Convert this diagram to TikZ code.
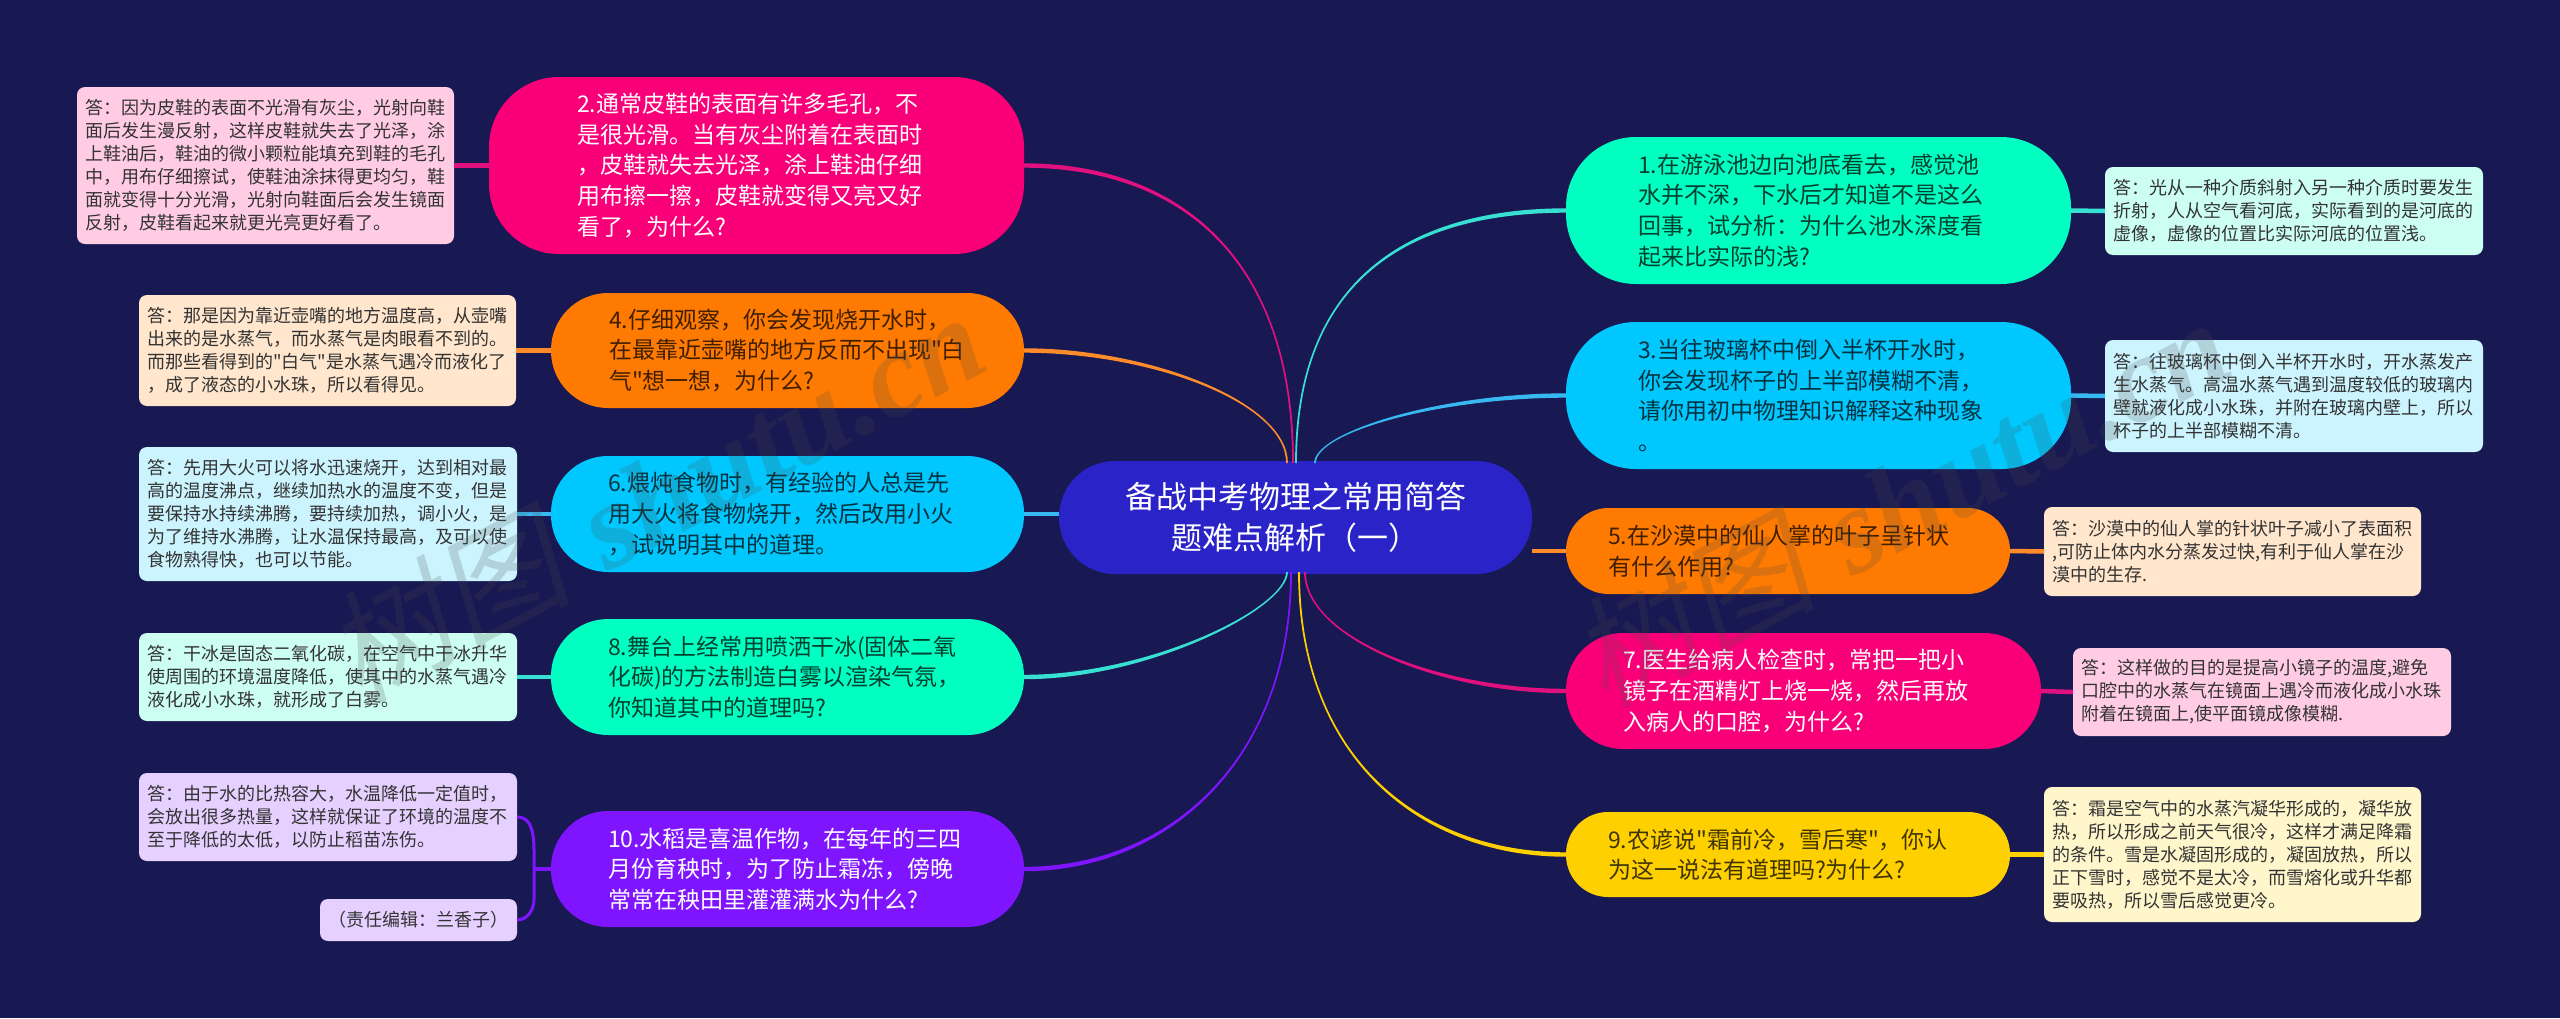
\documentclass[tikz,border=0pt]{standalone}
\usepackage{fontspec}
\newfontfamily\zh{Noto Sans CJK SC}
\newfontfamily\wmzh[FakeSlant=0.2]{Noto Sans CJK SC}
\newfontfamily\wmlatin{Liberation Serif}
\usetikzlibrary{calc}
\definecolor{bgc}{HTML}{181852}
\definecolor{cenc}{HTML}{2A24C8}
\definecolor{pinkc}{HTML}{FA0078}
\definecolor{orgc}{HTML}{FF7A00}
\definecolor{bluec}{HTML}{00C8FF}
\definecolor{grnc}{HTML}{00FFC0}
\definecolor{purc}{HTML}{7F14FF}
\definecolor{yelc}{HTML}{FFD000}
\definecolor{apink}{HTML}{FFCCE4}
\definecolor{aorg}{HTML}{FFE6CC}
\definecolor{ablue}{HTML}{CCF4FF}
\definecolor{agrn}{HTML}{CCFFF2}
\definecolor{apur}{HTML}{E5D0FF}
\definecolor{ayel}{HTML}{FFF6CC}
\definecolor{lpink}{HTML}{E0107F}
\definecolor{lorg}{HTML}{FF8C2A}
\definecolor{lblue}{HTML}{38B8F0}
\definecolor{lgrn}{HTML}{38E0D4}
\tikzset{
  anyrect/.style={rectangle,inner ysep=0pt,outer sep=0pt,align=left},
  branch/.style={anyrect,font=\zh\fontsize{23}{30.6}\selectfont},
  answer/.style={anyrect,rounded corners=8pt,font=\zh\fontsize{18}{23}\selectfont,text=black!80},
  short/.style={line width=4.5pt},
  mark text/.style={rotate=28,text=black!70,opacity=.2,font=\fontsize{122}{122}\selectfont},
}
\newcommand{\bx}[8]{% name x0 y0 x1 y1 pad style text
  \pgfmathsetlengthmacro{\bw}{(#4-#2)*1pt}
  \pgfmathsetlengthmacro{\bh}{(#5-#3)*1pt}
  \pgfmathsetlengthmacro{\bt}{(#4-#2-2*#6)*1pt}
  \pgfmathsetmacro{\bcx}{(#2+#4)/2}
  \pgfmathsetmacro{\bcy}{(#3+#5)/2}
  \node[#7,minimum width=\bw,minimum height=\bh,text width=\bt,inner xsep=#6pt] (#1) at (\bcx,\bcy) {#8};
}
\newcommand{\taper}[6]{% colour a b dx dy side
  \fill[#1] ($(#2)+(0,-2.2)$) .. controls ($(#2)+(#4,-2.2)$) and ($(#3)+(#6*0.9,#5)$) .. ($(#3)+(#6*0.9,0)$)
   -- ($(#3)+(-#6*0.9,0)$) .. controls ($(#3)+(-#6*0.9,#5)$) and ($(#2)+(#4,2.2)$) .. ($(#2)+(0,2.2)$) -- cycle;
}
\begin{document}
\begin{tikzpicture}[x=1pt,y=-1pt]
\useasboundingbox (0,0) rectangle (2560,1018);
\fill[bgc] (0,0) rectangle (2560,1018);
% connector ends on the centre
\coordinate (t4) at (1287,463);
\coordinate (t2) at (1293,463);
\coordinate (t1) at (1296,463);
\coordinate (t3) at (1315,463);
\coordinate (b8) at (1287,572);
\coordinate (b10) at (1291,572);
\coordinate (b9) at (1299,572);
\coordinate (b7) at (1305,572);
\coordinate (hub) at (534,869);
% centre
\bx{c}{1059}{461}{1532}{574}{40}{anyrect,align=center,rounded corners=56pt,fill=cenc,text=white,font=\zh\fontsize{31}{41}\selectfont}{备战中考物理之常用简答\\题难点解析（一）}
% left branches
\bx{n2}{489}{77}{1024}{254}{88}{branch,rounded corners=70pt,fill=pinkc,text=white}{2.通常皮鞋的表面有许多毛孔，不\\是很光滑。当有灰尘附着在表面时\\，皮鞋就失去光泽，涂上鞋油仔细\\用布擦一擦，皮鞋就变得又亮又好\\看了，为什么?}
\bx{n4}{551}{293}{1024}{408}{58}{branch,rounded corners=57pt,fill=orgc,text=black!75!orgc}{4.仔细观察，你会发现烧开水时，\\在最靠近壶嘴的地方反而不出现"白\\气"想一想，为什么?}
\bx{n6}{551}{456}{1024}{572}{57}{branch,rounded corners=57pt,fill=bluec,text=black!75!bluec}{6.煨炖食物时，有经验的人总是先\\用大火将食物烧开，然后改用小火\\，试说明其中的道理。}
\bx{n8}{551}{619}{1024}{735}{57}{branch,rounded corners=57pt,fill=grnc,text=black!75!grnc}{8.舞台上经常用喷洒干冰(固体二氧\\化碳)的方法制造白雾以渲染气氛，\\你知道其中的道理吗?}
\bx{n10}{551}{811}{1024}{927}{57}{branch,rounded corners=57pt,fill=purc,text=white}{10.水稻是喜温作物，在每年的三四\\月份育秧时，为了防止霜冻，傍晚\\常常在秧田里灌灌满水为什么?}
% right branches
\bx{n1}{1566}{137}{2071}{284}{72}{branch,rounded corners=70pt,fill=grnc,text=black!75!grnc}{1.在游泳池边向池底看去，感觉池\\水并不深，下水后才知道不是这么\\回事，试分析：为什么池水深度看\\起来比实际的浅?}
\bx{n3}{1566}{322}{2071}{469}{72}{branch,rounded corners=70pt,fill=bluec,text=black!75!bluec}{3.当往玻璃杯中倒入半杯开水时，\\你会发现杯子的上半部模糊不清，\\请你用初中物理知识解释这种现象\\。}
\bx{n5}{1566}{508}{2010}{594}{42}{branch,rounded corners=42.5pt,fill=orgc,text=black!75!orgc}{5.在沙漠中的仙人掌的叶子呈针状\\有什么作用?}
\bx{n7}{1566}{633}{2041}{749}{57}{branch,rounded corners=57pt,fill=pinkc,text=white}{7.医生给病人检查时，常把一把小\\镜子在酒精灯上烧一烧，然后再放\\入病人的口腔，为什么?}
\bx{n9}{1566}{812}{2010}{897}{42}{branch,rounded corners=42pt,fill=yelc,text=black!75!yelc}{9.农谚说"霜前冷，雪后寒"，你认\\为这一说法有道理吗?为什么?}
% answers left
\bx{a2}{77}{87}{454}{244}{8}{answer,fill=apink}{答：因为皮鞋的表面不光滑有灰尘，光射向鞋\\面后发生漫反射，这样皮鞋就失去了光泽，涂\\上鞋油后，鞋油的微小颗粒能填充到鞋的毛孔\\中，用布仔细擦试，使鞋油涂抹得更均匀，鞋\\面就变得十分光滑，光射向鞋面后会发生镜面\\反射，皮鞋看起来就更光亮更好看了。}
\bx{a4}{139}{295}{516}{406}{8}{answer,fill=aorg}{答：那是因为靠近壶嘴的地方温度高，从壶嘴\\出来的是水蒸气，而水蒸气是肉眼看不到的。\\而那些看得到的"白气"是水蒸气遇冷而液化了\\，成了液态的小水珠，所以看得见。}
\bx{a6}{139}{447}{517}{581}{8}{answer,fill=ablue}{答：先用大火可以将水迅速烧开，达到相对最\\高的温度沸点，继续加热水的温度不变，但是\\要保持水持续沸腾，要持续加热，调小火，是\\为了维持水沸腾，让水温保持最高，及可以使\\食物熟得快，也可以节能。}
\bx{a8}{139}{633}{517}{721}{8}{answer,fill=agrn}{答：干冰是固态二氧化碳，在空气中干冰升华\\使周围的环境温度降低，使其中的水蒸气遇冷\\液化成小水珠，就形成了白雾。}
\bx{a10}{139}{773}{517}{861}{8}{answer,fill=apur}{答：由于水的比热容大，水温降低一定值时，\\会放出很多热量，这样就保证了环境的温度不\\至于降低的太低，以防止稻苗冻伤。}
\bx{ed}{320}{899}{517}{941}{8}{answer,fill=apur,align=center}{（责任编辑：兰香子）}
% answers right
\bx{a1}{2105}{167}{2483}{255}{8}{answer,fill=agrn}{答：光从一种介质斜射入另一种介质时要发生\\折射，人从空气看河底，实际看到的是河底的\\虚像，虚像的位置比实际河底的位置浅。}
\bx{a3}{2105}{340}{2483}{452}{8}{answer,fill=ablue}{答：往玻璃杯中倒入半杯开水时，开水蒸发产\\生水蒸气。高温水蒸气遇到温度较低的玻璃内\\壁就液化成小水珠，并附在玻璃内壁上，所以\\杯子的上半部模糊不清。}
\bx{a5}{2044}{507}{2421}{596}{8}{answer,fill=aorg}{答：沙漠中的仙人掌的针状叶子减小了表面积\\,可防止体内水分蒸发过快,有利于仙人掌在沙\\漠中的生存.}
\bx{a7}{2073}{648}{2451}{736}{8}{answer,fill=apink}{答：这样做的目的是提高小镜子的温度,避免\\口腔中的水蒸气在镜面上遇冷而液化成小水珠\\附着在镜面上,使平面镜成像模糊.}
\bx{a9}{2044}{787}{2421}{922}{8}{answer,fill=ayel}{答：霜是空气中的水蒸汽凝华形成的，凝华放\\热，所以形成之前天气很冷，这样才满足降霜\\的条件。雪是水凝固形成的，凝固放热，所以\\正下雪时，感觉不是太冷，而雪熔化或升华都\\要吸热，所以雪后感觉更冷。}
% main connectors
\begin{scope}
\taper{lpink}{n2.east}{t2}{150}{-210}{1}
\taper{lorg}{n4.east}{t4}{126}{-61}{1}
\taper{lgrn}{n1.west}{t1}{-136}{-200}{-1}
\taper{lblue}{n3.west}{t3}{-126}{-31}{-1}
\taper{lgrn}{n8.east}{b8}{126}{36}{-1}
\taper{purc}{n10.east}{b10}{146}{186}{-1}
\taper{yelc}{n9.west}{b9}{-146}{186}{1}
\taper{lpink}{n7.west}{b7}{-126}{66}{1}
\end{scope}
\draw[lblue,short] (n6.east) -- (n6.east -| c.west);
\draw[lorg,short] (n5.west) -- (n5.west -| c.east);
% short connectors
\draw[lpink,short] (n2.west) -- (a2.east);
\draw[lorg,short] (n4.west) -- (a4.east);
\draw[lblue,short] (n6.west) -- (a6.east);
\draw[lgrn,short] (n8.west) -- (a8.east);
\draw[lgrn,short] (n1.east) -- (a1.west);
\draw[lblue,short] (n3.east) -- (a3.west);
\draw[lorg,short] (n5.east) -- (a5.west);
\draw[lpink,short] (n7.east) -- (a7.west);
\draw[yelc,short] (n9.east) -- (a9.west);
\draw[purc,short] (n10.west) -- (hub);
\draw[purc,line width=3pt] (a10.east) to[out=0,in=90] (hub|-a10.south) -- (hub) -- (hub|-ed.north) to[out=270,in=0] (ed.east);
% watermark
\node[mark text] (wm1) at (655,495) {{\wmzh 树图} {\wmlatin\bfseries\itshape shutu.cn}};
\node[mark text] (wm2) at (1900,500) {{\wmzh 树图} {\wmlatin\bfseries\itshape shutu.cn}};
\end{tikzpicture}
\end{document}
